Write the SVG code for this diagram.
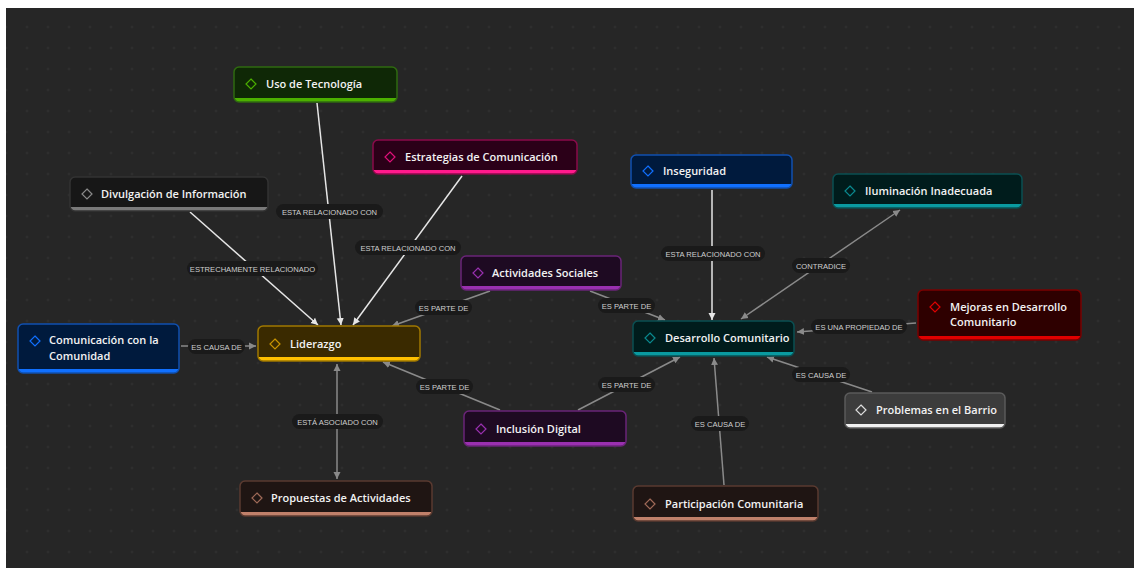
<svg xmlns="http://www.w3.org/2000/svg" width="1134" height="568" viewBox="0 0 1134 568">
<style>
.nt{font-family:"Open Sans","Noto Sans",sans-serif;font-weight:600;font-size:11px;fill:#f2f2f2}
.lt{font-family:"Liberation Sans",Arial,sans-serif;font-size:7.6px;fill:#cfcfcf;text-anchor:middle}
.pill{fill:#1a1a1a}
.ew{stroke:#e6e6e6;stroke-width:1.5;fill:none}
.eg{stroke:#8a8a8a;stroke-width:1.5;fill:none}
.green .b{fill:#0f2806}.green .s{stroke:#2f6a10}.green .bar{fill:#4cb000}.green .d{stroke:#4cb000}
.pink .b{fill:#2b0018}.pink .s{stroke:#8a0a4a}.pink .bar{fill:#ff1a8c}.pink .d{stroke:#e0107a}
.gray .b{fill:#171717}.gray .s{stroke:#333}.gray .bar{fill:#7a7a7a}.gray .d{stroke:#8a8a8a}
.blue .b{fill:#001a3d}.blue .s{stroke:#1050b0}.blue .bar{fill:#1070ff}.blue .d{stroke:#1070ff}
.teal .b{fill:#001c1c}.teal .s{stroke:#0a4f52}.teal .bar{fill:#0a9aa0}.teal .d{stroke:#0a8a90}
.purple .b{fill:#1e0a22}.purple .s{stroke:#6a2478}.purple .bar{fill:#9a30b0}.purple .d{stroke:#9a30b0}
.red .b{fill:#2e0000}.red .s{stroke:#7a0000}.red .bar{fill:#e00000}.red .d{stroke:#e00000}
.lgray .b{fill:#3c3c3c}.lgray .s{stroke:#5a5a5a}.lgray .bar{fill:#f0f0f0}.lgray .d{stroke:#dddddd}
.gold .b{fill:#3a2a00}.gold .s{stroke:#a07800}.gold .bar{fill:#ffc000}.gold .d{stroke:#c89400}
.brown .b{fill:#1f1513}.brown .s{stroke:#5a3a30}.brown .bar{fill:#c0806a}.brown .d{stroke:#a06a58}
.s{fill:none;stroke-width:1.5}
.d{fill:none;stroke-width:1.2}
</style>
<defs>
<pattern id="dots" patternUnits="userSpaceOnUse" x="16.5" y="16.5" width="21" height="21">
<circle cx="10.5" cy="10.5" r="0.9" fill="#363636"/>
</pattern>
<marker id="aw" markerUnits="userSpaceOnUse" markerWidth="8" markerHeight="8" refX="7" refY="4" orient="auto-start-reverse">
<path d="M0,0.5 L7,4 L0,7.5 z" fill="#e6e6e6"/>
</marker>
<marker id="ag" markerUnits="userSpaceOnUse" markerWidth="8" markerHeight="8" refX="7" refY="4" orient="auto-start-reverse">
<path d="M0,0.5 L7,4 L0,7.5 z" fill="#8a8a8a"/>
</marker>
</defs>
<rect x="0" y="0" width="1134" height="568" fill="#ffffff"/>
<rect x="6" y="8" width="1128" height="560" fill="#262626"/>
<rect x="6" y="8" width="1128" height="560" fill="url(#dots)"/>

<g id="connectors">
<line class="ew" x1="317" y1="103" x2="341" y2="325" marker-end="url(#aw)"/>
<line class="ew" x1="462" y1="176" x2="353" y2="325" marker-end="url(#aw)"/>
<line class="ew" x1="190" y1="212" x2="318" y2="325" marker-end="url(#aw)"/>
<line class="eg" x1="181" y1="346" x2="256" y2="346" marker-end="url(#ag)"/>
<line class="eg" x1="490" y1="291" x2="392" y2="326" marker-end="url(#ag)"/>
<line class="eg" x1="590" y1="291" x2="665" y2="320" marker-end="url(#ag)"/>
<line class="eg" x1="337" y1="364" x2="337" y2="479" marker-start="url(#ag)" marker-end="url(#ag)"/>
<line class="eg" x1="500" y1="410" x2="383" y2="362" marker-end="url(#ag)"/>
<line class="eg" x1="578" y1="410" x2="680" y2="357" marker-end="url(#ag)"/>
<line class="ew" x1="712" y1="190" x2="712" y2="320" marker-end="url(#aw)"/>
<line class="eg" x1="741" y1="319" x2="900" y2="210" marker-start="url(#ag)" marker-end="url(#ag)"/>
<line class="eg" x1="916" y1="323" x2="797" y2="332" marker-end="url(#ag)"/>
<line class="eg" x1="872" y1="392" x2="767" y2="357" marker-end="url(#ag)"/>
<line class="eg" x1="724" y1="485" x2="714" y2="358" marker-end="url(#ag)"/>

<rect class="pill" x="276" y="204" width="107" height="15" rx="7.5"/>
<text class="lt" x="329.5" y="214.5">ESTA RELACIONADO CON</text>
<rect class="pill" x="355" y="240" width="106" height="15" rx="7.5"/>
<text class="lt" x="408" y="250.5">ESTA RELACIONADO CON</text>
<rect class="pill" x="187" y="261" width="131" height="15" rx="7.5"/>
<text class="lt" x="252.5" y="271.5">ESTRECHAMENTE RELACIONADO</text>
<rect class="pill" x="188" y="339" width="57" height="15" rx="7.5"/>
<text class="lt" x="216.5" y="349.5">ES CAUSA DE</text>
<rect class="pill" x="415" y="300" width="57" height="15" rx="7.5"/>
<text class="lt" x="443.5" y="310.5">ES PARTE DE</text>
<rect class="pill" x="598" y="298" width="57" height="15" rx="7.5"/>
<text class="lt" x="626.5" y="308.5">ES PARTE DE</text>
<rect class="pill" x="292" y="414" width="91" height="15" rx="7.5"/>
<text class="lt" x="337.5" y="424.5">ESTÁ ASOCIADO CON</text>
<rect class="pill" x="416" y="379" width="57" height="15" rx="7.5"/>
<text class="lt" x="444.5" y="389.5">ES PARTE DE</text>
<rect class="pill" x="598" y="377" width="57" height="15" rx="7.5"/>
<text class="lt" x="626.5" y="387.5">ES PARTE DE</text>
<rect class="pill" x="661" y="246" width="104" height="15" rx="7.5"/>
<text class="lt" x="713" y="256.5">ESTA RELACIONADO CON</text>
<rect class="pill" x="792" y="258" width="58" height="15" rx="7.5"/>
<text class="lt" x="821" y="268.5">CONTRADICE</text>
<rect class="pill" x="811" y="319" width="96" height="15" rx="7.5"/>
<text class="lt" x="859" y="329.5">ES UNA PROPIEDAD DE</text>
<rect class="pill" x="792" y="367" width="58" height="15" rx="7.5"/>
<text class="lt" x="821" y="377.5">ES CAUSA DE</text>
<rect class="pill" x="691" y="416" width="58" height="15" rx="7.5"/>
<text class="lt" x="720" y="426.5">ES CAUSA DE</text>
</g>

<g id="uso-tecnologia" class="green">
<rect class="bar" x="234" y="67" width="163" height="35" rx="5"/>
<rect class="b" x="234" y="67" width="163" height="31" rx="5"/>
<rect class="b" x="234" y="88" width="163" height="10"/>
<rect class="s" x="234" y="67" width="163" height="35" rx="5"/>
<path class="d" d="M251,79 L256,84 L251,89 L246,84 Z"/>
<text class="nt" x="266" y="88">Uso de Tecnología</text>
</g>

<g id="estrategias-comunicacion" class="pink">
<rect class="bar" x="373" y="140" width="204" height="34" rx="5"/>
<rect class="b" x="373" y="140" width="204" height="30" rx="5"/>
<rect class="b" x="373" y="160" width="204" height="10"/>
<rect class="s" x="373" y="140" width="204" height="34" rx="5"/>
<path class="d" d="M390,152 L395,157 L390,162 L385,157 Z"/>
<text class="nt" x="405" y="161">Estrategias de Comunicación</text>
</g>

<g id="divulgacion-informacion" class="gray">
<rect class="bar" x="70" y="177" width="198" height="34" rx="5"/>
<rect class="b" x="70" y="177" width="198" height="30" rx="5"/>
<rect class="b" x="70" y="197" width="198" height="10"/>
<rect class="s" x="70" y="177" width="198" height="34" rx="5"/>
<path class="d" d="M87,189 L92,194 L87,199 L82,194 Z"/>
<text class="nt" x="101" y="198">Divulgación de Información</text>
</g>

<g id="inseguridad" class="blue">
<rect class="bar" x="631" y="155" width="161" height="33" rx="5"/>
<rect class="b" x="631" y="155" width="161" height="29" rx="5"/>
<rect class="b" x="631" y="174" width="161" height="10"/>
<rect class="s" x="631" y="155" width="161" height="33" rx="5"/>
<path class="d" d="M648,166 L653,171 L648,176 L643,171 Z"/>
<text class="nt" x="663" y="175">Inseguridad</text>
</g>

<g id="iluminacion-inadecuada" class="teal">
<rect class="bar" x="833" y="174" width="189" height="34" rx="5"/>
<rect class="b" x="833" y="174" width="189" height="30" rx="5"/>
<rect class="b" x="833" y="194" width="189" height="10"/>
<rect class="s" x="833" y="174" width="189" height="34" rx="5"/>
<path class="d" d="M850,186 L855,191 L850,196 L845,191 Z"/>
<text class="nt" x="865" y="195">Iluminación Inadecuada</text>
</g>

<g id="actividades-sociales" class="purple">
<rect class="bar" x="461" y="256" width="160" height="34" rx="5"/>
<rect class="b" x="461" y="256" width="160" height="30" rx="5"/>
<rect class="b" x="461" y="276" width="160" height="10"/>
<rect class="s" x="461" y="256" width="160" height="34" rx="5"/>
<path class="d" d="M478,268 L483,273 L478,278 L473,273 Z"/>
<text class="nt" x="492" y="277">Actividades Sociales</text>
</g>

<g id="mejoras-desarrollo" class="red">
<rect class="bar" x="918" y="290" width="163" height="50" rx="5"/>
<rect class="b" x="918" y="290" width="163" height="46" rx="5"/>
<rect class="b" x="918" y="326" width="163" height="10"/>
<rect class="s" x="918" y="290" width="163" height="50" rx="5"/>
<path class="d" d="M935,302 L940,307 L935,312 L930,307 Z"/>
<text class="nt" x="950" y="311">Mejoras en Desarrollo</text>
<text class="nt" x="950" y="326">Comunitario</text>
</g>

<g id="comunicacion-comunidad" class="blue">
<rect class="bar" x="18" y="324" width="161" height="49" rx="5"/>
<rect class="b" x="18" y="324" width="161" height="45" rx="5"/>
<rect class="b" x="18" y="359" width="161" height="10"/>
<rect class="s" x="18" y="324" width="161" height="49" rx="5"/>
<path class="d" d="M35,336 L40,341 L35,346 L30,341 Z"/>
<text class="nt" x="49" y="344">Comunicación con la</text>
<text class="nt" x="49" y="360">Comunidad</text>
</g>

<g id="liderazgo" class="gold">
<rect class="bar" x="258" y="326" width="162" height="35" rx="5"/>
<rect class="b" x="258" y="326" width="162" height="31" rx="5"/>
<rect class="b" x="258" y="347" width="162" height="10"/>
<rect class="s" x="258" y="326" width="162" height="35" rx="5"/>
<path class="d" d="M275,339 L280,344 L275,349 L270,344 Z"/>
<text class="nt" x="290" y="348">Liderazgo</text>
</g>

<g id="desarrollo-comunitario" class="teal">
<rect class="bar" x="633" y="321" width="161" height="35" rx="5"/>
<rect class="b" x="633" y="321" width="161" height="31" rx="5"/>
<rect class="b" x="633" y="342" width="161" height="10"/>
<rect class="s" x="633" y="321" width="161" height="35" rx="5"/>
<path class="d" d="M650,333 L655,338 L650,343 L645,338 Z"/>
<text class="nt" x="665" y="342">Desarrollo Comunitario</text>
</g>

<g id="problemas-barrio" class="lgray">
<rect class="bar" x="845" y="393" width="160" height="35" rx="5"/>
<rect class="b" x="845" y="393" width="160" height="31" rx="5"/>
<rect class="b" x="845" y="414" width="160" height="10"/>
<rect class="s" x="845" y="393" width="160" height="35" rx="5"/>
<path class="d" d="M861,405 L866,410 L861,415 L856,410 Z"/>
<text class="nt" x="876" y="414">Problemas en el Barrio</text>
</g>

<g id="inclusion-digital" class="purple">
<rect class="bar" x="464" y="411" width="162" height="35" rx="5"/>
<rect class="b" x="464" y="411" width="162" height="31" rx="5"/>
<rect class="b" x="464" y="432" width="162" height="10"/>
<rect class="s" x="464" y="411" width="162" height="35" rx="5"/>
<path class="d" d="M481,424 L486,429 L481,434 L476,429 Z"/>
<text class="nt" x="496" y="433">Inclusión Digital</text>
</g>

<g id="propuestas-actividades" class="brown">
<rect class="bar" x="240" y="481" width="192" height="35" rx="5"/>
<rect class="b" x="240" y="481" width="192" height="31" rx="5"/>
<rect class="b" x="240" y="502" width="192" height="10"/>
<rect class="s" x="240" y="481" width="192" height="35" rx="5"/>
<path class="d" d="M257,493 L262,498 L257,503 L252,498 Z"/>
<text class="nt" x="271" y="502">Propuestas de Actividades</text>
</g>

<g id="participacion-comunitaria" class="brown">
<rect class="bar" x="633" y="486" width="185" height="35" rx="5"/>
<rect class="b" x="633" y="486" width="185" height="31" rx="5"/>
<rect class="b" x="633" y="507" width="185" height="10"/>
<rect class="s" x="633" y="486" width="185" height="35" rx="5"/>
<path class="d" d="M650,499 L655,504 L650,509 L645,504 Z"/>
<text class="nt" x="665" y="508">Participación Comunitaria</text>
</g>
</svg>
